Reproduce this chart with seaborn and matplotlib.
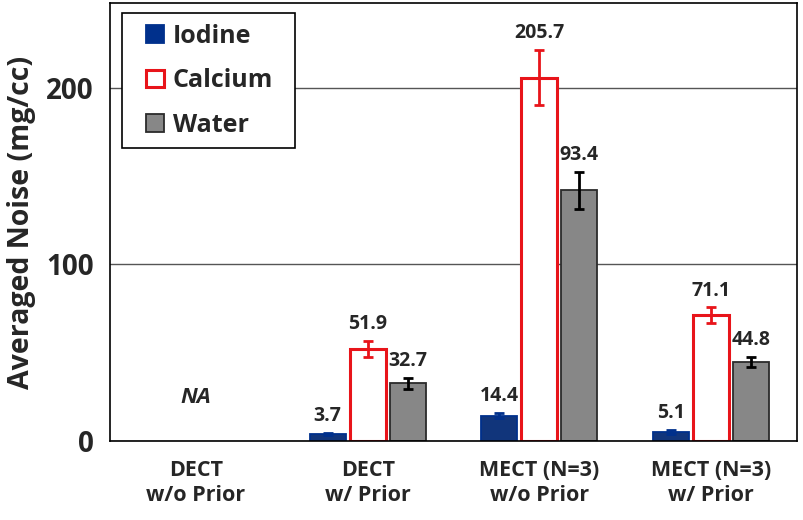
import numpy as np
import pandas as pd
import matplotlib
matplotlib.use("Agg")
import matplotlib.pyplot as plt
import seaborn as sns
from matplotlib.patches import Patch, Rectangle
from matplotlib.legend_handler import HandlerPatch

groups = ["DECT\nw/o Prior", "DECT\nw/ Prior", "MECT (N=3)\nw/o Prior", "MECT (N=3)\nw/ Prior"]
materials = ["Iodine", "Calcium", "Water"]

# bar heights (NaN = not available)
iodine = [np.nan, 3.7, 14.4, 5.1]
calcium = [np.nan, 51.9, 205.7, 71.1]
water = [np.nan, 32.7, 142.0, 44.8]

# error bar half-widths
iodine_err = [np.nan, 0.6, 1.2, 1.0]
calcium_err = [np.nan, 4.5, 15.5, 4.5]
water_err = [np.nan, 3.0, 10.5, 3.0]

# printed numbers above bars
iodine_lbl = ["", "3.7", "14.4", "5.1"]
calcium_lbl = ["", "51.9", "205.7", "71.1"]
water_lbl = ["", "32.7", "93.4", "44.8"]

df = pd.DataFrame({
    "group": groups * 3,
    "material": np.repeat(materials, 4),
    "noise": iodine + calcium + water,
})
df["plot_noise"] = df["noise"].fillna(0)

sns.set_style("white")
plt.rcParams["font.family"] = ["Open Sans", "DejaVu Sans"]
plt.rcParams["font.weight"] = "bold"

fig = plt.figure(figsize=(8.04, 5.2), dpi=100)
ax = fig.add_axes([0.137, 0.152, 0.854, 0.842])

face = {"Iodine": "#00308c", "Calcium": "white", "Water": "#878787"}
edge = {"Iodine": "#00308c", "Calcium": "#e8141a", "Water": "#2b2b2b"}
ecol = {"Iodine": "#00308c", "Calcium": "#e8141a", "Water": "black"}

sns.barplot(data=df, x="group", y="plot_noise", hue="material", order=groups,
            hue_order=materials, palette=face, errorbar=None, width=0.7,
            gap=0.1, legend=False, ax=ax)

vals = {"Iodine": iodine, "Calcium": calcium, "Water": water}
errs = {"Iodine": iodine_err, "Calcium": calcium_err, "Water": water_err}
lbls = {"Iodine": iodine_lbl, "Calcium": calcium_lbl, "Water": water_lbl}

for cont, m in zip(ax.containers, materials):
    for i, bar in enumerate(cont):
        bar.set_edgecolor(edge[m])
        bar.set_linewidth(2.2 if m == "Calcium" else 1.3)
        if np.isnan(vals[m][i]):
            bar.set_visible(False)
            continue
        cx = bar.get_x() + bar.get_width() / 2
        top = vals[m][i] + errs[m][i]
        ax.errorbar(cx, vals[m][i], yerr=errs[m][i], fmt="none", ecolor=ecol[m],
                    elinewidth=2, capsize=3.5, capthick=2, zorder=4)
        ax.annotate(lbls[m][i], (cx, top), xytext=(0, 5), textcoords="offset points",
                    ha="center", va="bottom", fontsize=14, fontweight="bold")

ax.text(0, 24.5, "NA", ha="center", va="center", fontsize=16,
        fontweight="bold", fontstyle="italic")

ax.set_ylim(0, 248)
ax.set_xlim(-0.5, 3.5)
ax.set_yticks([0, 100, 200])
ax.yaxis.grid(True, color="#555555", linewidth=1)
ax.set_axisbelow(True)
ax.set_xlabel("")
ax.set_ylabel("Averaged Noise (mg/cc)", fontsize=20.5, fontweight="bold", labelpad=7)
ax.tick_params(axis="y", labelsize=20, length=0, pad=12)
ax.tick_params(axis="x", labelsize=15.5, length=0, pad=14)
for lab in ax.get_xticklabels() + ax.get_yticklabels():
    lab.set_fontweight("bold")
for sp in ax.spines.values():
    sp.set_color("black")
    sp.set_linewidth(1.2)


# square legend key pushed to the right end of its slot
def right_square(legend, orig_handle, xdescent, ydescent, width, height, fontsize):
    return Rectangle((-xdescent + width - height, -ydescent), height, height)


handles = [Patch(facecolor=face[m], edgecolor=edge[m], linewidth=2.2 if m == "Calcium" else 1.3,
                 label=m) for m in materials]
leg = ax.legend(handles=handles, loc="upper left", bbox_to_anchor=(0.0175, 0.977, 0.252, 0),
                mode="expand", prop={"size": 18, "weight": "bold"}, frameon=True,
                fancybox=False, edgecolor="black", handlelength=1.25, handleheight=0.72,
                handletextpad=0.35, labelspacing=0.78, borderpad=0.42,
                borderaxespad=0.0, handler_map={Patch: HandlerPatch(patch_func=right_square)})
leg.get_frame().set_linewidth(1.2)
leg.get_frame().set_alpha(1)

fig.savefig("out.png", dpi=100)
